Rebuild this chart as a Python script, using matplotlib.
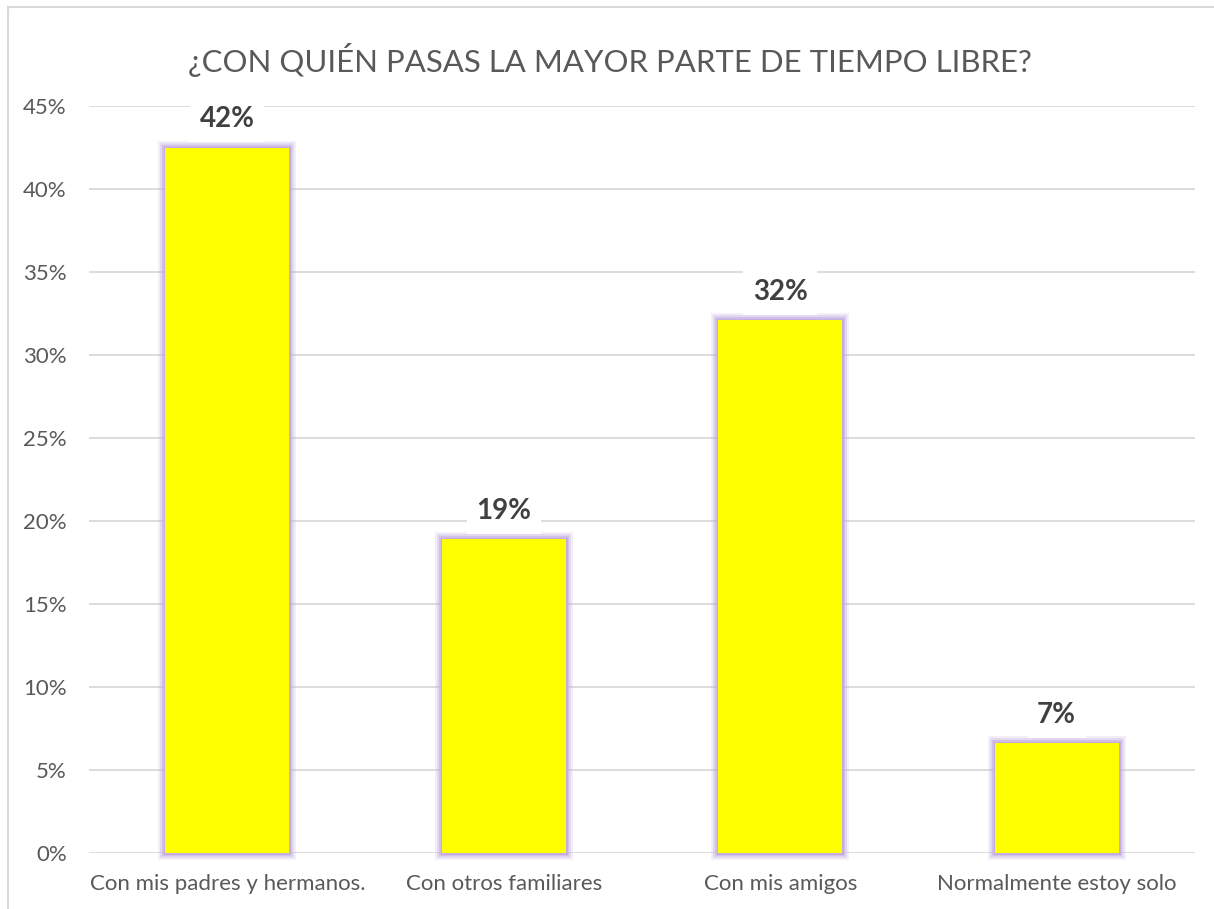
import matplotlib.pyplot as plt
from matplotlib.patches import Rectangle
from matplotlib.ticker import FuncFormatter

categories = ["Con mis padres y hermanos.", "Con otros familiares",
              "Con mis amigos", "Normalmente estoy solo"]
values = [0.425, 0.189, 0.321, 0.066]
bar_labels = ["42%", "19%", "32%", "7%"]
title = "¿CON QUIÉN PASAS LA MAYOR PARTE DE TIEMPO LIBRE?"

plt.rcParams['font.family'] = ['Lato', 'DejaVu Sans']

fig = plt.figure(figsize=(12.14, 9.09), dpi=100)
W, H = 1214, 909
ax = fig.add_axes([89 / W, 1 - 853 / H, (1195 - 89) / W, (853 - 106) / H])

# outer chart border
fig.patches.append(Rectangle((8 / W, -0.01), 1.1, 1 - 7 / H + 0.01,
                             transform=fig.transFigure, fill=False,
                             edgecolor='#d9d9d9', linewidth=1.5))

x = range(len(categories))
# soft purple glow around bars
for lw, a in [(10, 0.2), (7, 0.35), (4, 0.6), (2, 0.9)]:
    ax.bar(x, values, width=0.45, color='none', edgecolor='#c2abe0',
           linewidth=lw, alpha=a, clip_on=False, zorder=2)
ax.bar(x, values, width=0.45, color='#ffff00', edgecolor='none', zorder=3)

for i, (v, lab) in enumerate(zip(values, bar_labels)):
    ax.annotate(lab, (i, v), xytext=(0, 11), textcoords='offset points',
                ha='center', va='bottom', fontsize=20, fontweight='bold',
                color='#404040', zorder=4,
                bbox=dict(boxstyle='square,pad=0.35', fc='white', ec='none'))

ax.set_ylim(0, 0.45)
ax.set_xlim(-0.5, len(categories) - 0.5)
ax.set_yticks([i * 0.05 for i in range(10)])
ax.yaxis.set_major_formatter(FuncFormatter(lambda v, p: f"{v * 100:.0f}%"))
ax.set_xticks(list(x))
ax.set_xticklabels(categories)
ax.tick_params(axis='both', length=0, labelsize=16, colors='#595959')
ax.tick_params(axis='y', pad=16)
ax.tick_params(axis='x', pad=15)
ax.grid(axis='y', color='#d9d9d9', linewidth=1.3, zorder=0)
ax.set_axisbelow(True)
for s in ax.spines.values():
    s.set_visible(False)

fig.text(610 / W, 1 - 60 / H, title, ha='center', va='center',
         fontsize=22.4, color='#595959')

fig.savefig('out.png', dpi=100)
